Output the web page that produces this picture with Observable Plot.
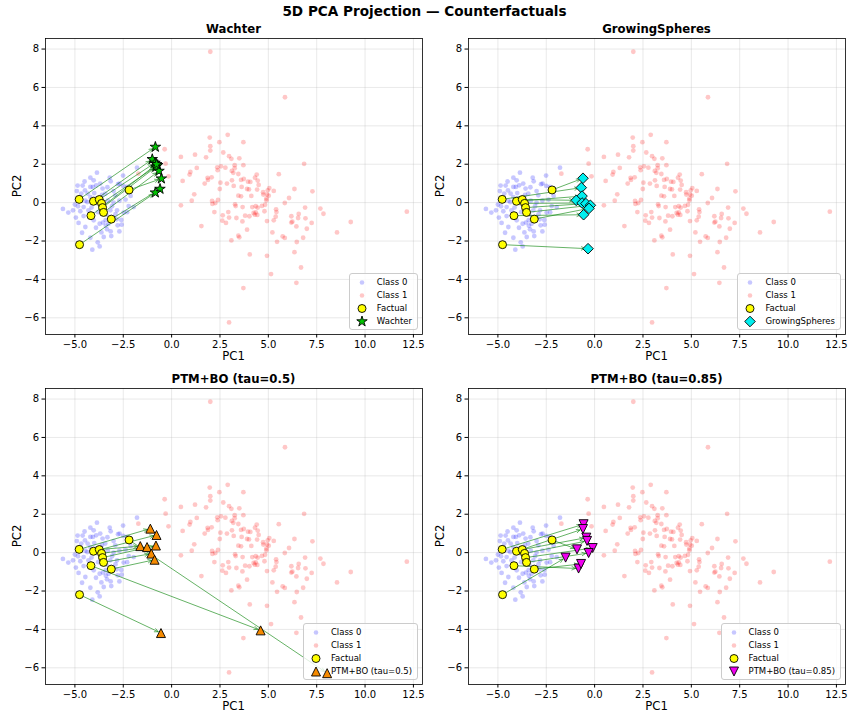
<!DOCTYPE html>
<html><head><meta charset="utf-8">
<script src="https://cdn.jsdelivr.net/npm/d3@7"></script>
<script src="https://cdn.jsdelivr.net/npm/@observablehq/plot@0.6"></script>
<style>
body{margin:0;background:#fff;}
#fig{position:relative;width:849px;height:719px;background:#fff;font-family:"DejaVu Sans",sans-serif;overflow:hidden;color:#000;}
.abs{position:absolute;}
.suptitle{left:0;width:849px;top:3px;line-height:16px;text-align:center;font-weight:bold;font-size:13.6px;}
.ptitle{line-height:16px;text-align:center;font-weight:bold;font-size:11.7px;}
.xlab{line-height:14px;text-align:center;font-size:11.7px;}
.ylab{width:60px;line-height:14px;text-align:center;font-size:11.7px;transform:rotate(-90deg);}
.legend{border:1px solid #cccccc;border-radius:3px;background:rgba(255,255,255,0.8);padding:1.5px 5px 1.5px 0;font-size:8.5px;}
.lrow{display:flex;align-items:center;height:13px;}
.lrow svg{flex:none;}
.lrow span{white-space:nowrap;line-height:13px;}
</style></head><body><div id="fig"></div>
<script>
// ---- data ----
const xTicks = [-5, -2.5, 0, 2.5, 5, 7.5, 10, 12.5];
const yTicks = [-6, -4, -2, 0, 2, 4, 6, 8];

const class0X = [-5.62,-5.34,-4.86,-4.60,-4.48,-4.20,-4.07,-3.86,-4.03,-3.69,-3.57,-3.32,-3.15,-2.77,-2.51,-2.69,-2.50,-2.38,-2.12,-2.22,-1.96,-1.79,-4.84,-4.72,-4.95,-4.81,-4.55,-4.46,-4.14,-3.96,-3.86,-4.20,-4.36,-3.72,-4.03,-3.91,-3.55,-3.41,-3.26,-3.00,-2.84,-2.79,-3.15,-3.63,-3.51,-3.34,-3.12,-2.70,-2.58,-2.48,-2.82,-3.08,-3.38,-3.17,-4.63,-4.20,-4.10,-3.82,-3.72,-4.46,-4.67,-4.34,-3.69,-3.43,-2.91,-2.31,-4.72,-5.10,-4.55,-4.0,-3.6,-3.3,-3.0,-2.7,-4.3,-3.8,-3.5,-2.9,-3.0,-3.9,-4.5,-3.4,-2.6,-4.9,-5.0,-4.2,-3.2,-2.3,-2.1];
const class0Y = [-0.33,-0.52,0.89,0.89,0.64,0.82,0.82,1.56,1.16,0.99,0.73,0.80,1.11,0.96,1.41,0.99,0.87,0.16,0.35,-0.18,-0.23,1.82,-0.19,-0.45,-0.78,-1.06,-0.70,-1.27,-0.26,0.21,-0.02,0.29,0.03,-1.10,-0.92,-1.31,-1.04,-0.91,-1.10,-0.80,-0.87,-1.18,-1.50,-1.55,-1.79,-1.39,-1.74,-1.50,-1.15,-0.52,-0.40,-0.19,-0.63,-0.40,-1.57,-1.83,-2.45,-2.07,-2.28,0.10,0.47,0.47,0.29,0.47,0.38,0.82,0.28,-0.40,-0.23,0.5,0.4,0.1,0.0,0.1,-0.4,-0.5,-0.3,-0.6,0.6,0.9,1.1,-1.2,-0.9,0.6,-0.1,1.3,1.3,-0.5,0.6];

const class1X = [2.00,5.86,1.97,2.90,2.47,3.71,2.00,2.00,2.67,0.48,1.21,1.78,2.97,3.09,3.50,6.85,3.71,3.26,3.26,2.78,2.55,2.36,2.38,1.30,0.97,0.93,0.57,1.86,1.88,1.71,2.07,3.11,3.19,3.45,4.40,5.54,4.31,2.52,2.86,3.12,3.59,3.73,3.95,4.07,4.45,4.50,2.49,3.21,3.62,3.90,4.00,4.42,4.73,5.05,4.97,5.28,6.35,7.28,1.17,1.04,0.48,2.40,2.09,2.11,2.26,3.45,3.59,4.12,4.74,4.93,4.90,5.02,4.90,6.07,5.85,6.90,7.69,7.85,3.28,3.31,3.67,4.17,4.35,4.45,4.67,4.83,5.40,5.42,2.21,2.93,2.64,2.62,2.81,2.97,3.35,3.66,3.80,4.02,4.24,4.35,4.30,4.43,4.80,4.93,5.28,5.38,6.19,6.24,6.57,6.54,6.92,6.45,6.19,7.24,6.99,9.26,8.55,12.16,1.54,3.90,3.09,3.45,3.50,5.21,5.45,5.74,5.85,6.47,6.80,6.35,4.04,4.93,6.69,5.14,3.71,6.45,2.97,-0.36,-0.31,-0.16,-1.72];
const class1Y = [7.86,5.49,3.39,3.53,3.15,3.15,2.94,2.71,2.61,2.38,2.50,2.36,2.42,2.28,2.31,2.02,1.95,1.95,1.79,1.82,1.89,1.84,1.69,1.81,1.60,1.46,1.13,1.29,1.18,0.99,1.32,1.65,1.55,1.49,1.46,1.48,1.30,1.04,0.99,1.16,1.18,1.23,1.09,1.08,1.15,0.92,0.71,0.87,0.82,0.71,0.69,0.68,0.54,0.76,0.64,0.61,0.71,0.59,0.43,0.10,-0.14,0.14,0.09,-0.07,-0.02,0.36,0.33,0.35,0.42,0.42,0.21,0.36,0.12,0.24,-0.02,-0.26,-0.31,-0.58,-0.09,-0.18,-0.23,-0.23,-0.19,-0.26,-0.17,-0.11,-0.35,-0.49,-0.49,-0.49,-0.66,-0.94,-1.06,-0.78,-0.80,-0.98,-0.68,-0.71,-0.54,-0.51,-0.63,-0.64,-0.45,-0.96,-0.92,-0.73,-0.71,-0.99,-0.59,-0.80,-0.82,-1.24,-1.04,-1.06,-1.36,-1.01,-1.55,-0.47,-1.22,-1.41,-1.97,-1.72,-1.81,-1.55,-2.04,-1.76,-1.84,-2.05,-1.83,-2.58,-2.70,-2.77,-3.38,-3.72,-4.45,-4.18,-6.24,2.78,2.03,1.37,1.51];

const factualX = [-4.78,-4.04,-3.74,-3.62,-3.57,-3.52,-4.17,-3.12,-2.20,-4.76];
const factualY = [0.17,0.07,0.16,-0.04,-0.26,-0.51,-0.68,-0.86,0.66,-2.19];

const wachterX = [-0.84,-1.00,-0.86,-0.72,-0.81,-0.65,-0.78,-0.60,-0.53,-0.84];
const wachterY = [2.90,2.26,2.07,1.95,1.86,1.65,2.00,0.71,1.25,0.52];

const gsX = [-0.69,-0.65,-0.95,-0.65,-0.45,-0.22,-0.57,-0.29,-0.60,-0.34];
const gsY = [0.78,0.34,0.12,-0.02,-0.05,-0.14,-0.63,-0.30,1.27,-2.40];

const ptm05X = [-1.10,-0.78,-1.62,-1.27,-0.81,-1.05,4.60,-0.88,8.04,-0.55];
const ptm05Y = [1.25,0.92,0.34,0.29,0.37,-0.05,-4.05,-0.37,-6.28,-4.19];

const ptm085X = [-0.57,-0.60,-0.43,-0.39,-0.10,-0.31,-0.83,-0.70,-0.91,-1.50];
const ptm085Y = [1.48,1.23,0.78,0.61,0.24,-0.02,-0.83,-0.59,0.17,-0.26];

const panelTitles = ["Wachter", "GrowingSpheres", "PTM+BO (tau=0.5)", "PTM+BO (tau=0.85)"];
const methodLabels = ["Wachter", "GrowingSpheres", "PTM+BO (tau=0.5)", "PTM+BO (tau=0.85)"];
const classLabels = ["Class 0", "Class 1"];
const factualLabel = "Factual";
const mainTitle = "5D PCA Projection \u2014 Counterfactuals";

// ---- config ----
const xDomain = [-6.52, 12.97], yDomain = [-6.87, 8.55];
const W = 424, H = 350, ML = 45, MR = 2, MT = 18, MB = 36;

function poly(pts) {
  return {draw(ctx, size) {
    const a = Math.sqrt(size / Math.PI);
    pts.forEach(([px, py], i) => i ? ctx.lineTo(px * a, py * a) : ctx.moveTo(px * a, py * a));
    ctx.closePath();
  }};
}
const starPts = d3.range(10).map(k => {
  const ang = -Math.PI / 2 + k * Math.PI / 5, rr = k % 2 ? 0.382 : 1;
  return [rr * Math.cos(ang), rr * Math.sin(ang)];
});
const shapes = {
  star: {pts: starPts, r: 5.5},
  diamond: {pts: [[0,-1],[1,0],[0,1],[-1,0]], r: 5.3},
  up: {pts: [[0,-1],[-1,1],[1,1]], r: 4.5},
  down: {pts: [[0,1],[-1,-1],[1,-1]], r: 4.5}
};
const cfSets = [
  {x: wachterX, y: wachterY, shape: "star", fill: "#00c400"},
  {x: gsX, y: gsY, shape: "diamond", fill: "#00eeee"},
  {x: ptm05X, y: ptm05Y, shape: "up", fill: "#f58a00"},
  {x: ptm085X, y: ptm085Y, shape: "down", fill: "#f000f0"}
];

const class0 = class0X.map((x, i) => ({x, y: class0Y[i]}));
const class1 = class1X.map((x, i) => ({x, y: class1Y[i]}));
const factual = factualX.map((x, i) => ({x, y: factualY[i]}));

const fig = document.getElementById("fig");
function div(cls, text, css) {
  const d = document.createElement("div");
  d.className = "abs " + cls;
  if (text != null) d.textContent = text;
  Object.assign(d.style, css);
  fig.appendChild(d);
  return d;
}
div("suptitle", mainTitle, {});

const baseStyle = {fontFamily: "DejaVu Sans", fontSize: "10px", color: "#000", background: "transparent", overflow: "visible"};

function pathFor(pts, a, cx, cy) {
  return pts.map(([px, py], i) => (i ? "L" : "M") + (cx + px * a).toFixed(2) + "," + (cy + py * a).toFixed(2)).join("") + "Z";
}

panelTitles.forEach((title, p) => {
  const col = p % 2, row = Math.floor(p / 2);
  const left = col * 423, top = 20 + row * 350;
  const cf = cfSets[p];
  const sh = shapes[cf.shape];
  const cfData = cf.x.map((x, i) => ({x, y: cf.y[i]}));
  const links = factual.map((f, i) => ({x1: f.x, y1: f.y, x2: cfData[i].x, y2: cfData[i].y}));

  const main = Plot.plot({
    width: W, height: H, marginLeft: ML, marginRight: MR, marginTop: MT, marginBottom: MB,
    style: baseStyle,
    x: {domain: xDomain, ticks: xTicks, tickFormat: d3.format(".1f"), tickSize: 3.5, tickPadding: 3, label: null},
    y: {domain: yDomain, ticks: yTicks, tickFormat: d3.format("d"), tickSize: 3.5, tickPadding: 3, label: null},
    marks: [
      Plot.ruleX(xTicks, {stroke: "#b0b0b0", strokeOpacity: 0.35, strokeWidth: 0.8}),
      Plot.ruleY(yTicks, {stroke: "#b0b0b0", strokeOpacity: 0.35, strokeWidth: 0.8}),
      Plot.dot(class0, {x: "x", y: "y", r: 2.4, fill: "blue", fillOpacity: 0.22, stroke: null}),
      Plot.dot(class1, {x: "x", y: "y", r: 2.4, fill: "red", fillOpacity: 0.22, stroke: null}),
      Plot.arrow(links, {x1: "x1", y1: "y1", x2: "x2", y2: "y2", stroke: "green", strokeOpacity: 0.6, strokeWidth: 1, headLength: 6, headAngle: 50, insetEnd: 3, bend: 0}),
      Plot.dot(factual, {x: "x", y: "y", r: 4, fill: "yellow", stroke: "black", strokeWidth: 0.9}),
      Plot.frame({stroke: "black", strokeWidth: 0.8})
    ]
  });
  Object.assign(main.style, {position: "absolute", left: left + "px", top: top + "px", zIndex: 1});
  fig.appendChild(main);

  // panel texts
  div("ptitle", title, {left: (left + ML) + "px", width: (W - ML - MR) + "px", top: (top + 1) + "px", zIndex: 4});
  div("xlab", "PC1", {left: (left + ML) + "px", width: (W - ML - MR) + "px", top: (top + 329) + "px", zIndex: 4});
  div("ylab", "PC2", {left: (left + 17 - 30) + "px", top: (top + MT + (H - MT - MB) / 2 - 7) + "px", zIndex: 4});

  // legend
  const lg = div("legend", null, {right: (849 - (left + W - MR - 4)) + "px", bottom: (719 - (top + H - MB - 4)) + "px", zIndex: 2});
  const rows = [
    {label: classLabels[0], svg: `<circle cx="12" cy="6.5" r="2.3" fill="blue" fill-opacity="0.22"/>`},
    {label: classLabels[1], svg: `<circle cx="12" cy="6.5" r="2.3" fill="red" fill-opacity="0.22"/>`},
    {label: factualLabel, svg: `<circle cx="12" cy="6.5" r="4" fill="yellow" stroke="black" stroke-width="0.9"/>`},
    {label: methodLabels[p], svg: `<path d="${pathFor(sh.pts, sh.r, 12, 6.5)}" fill="${cf.fill}" stroke="black" stroke-width="0.9"/>`}
  ];
  rows.forEach(r => {
    const rd = document.createElement("div");
    rd.className = "lrow";
    rd.innerHTML = `<svg width="27" height="13" style="overflow:visible">${r.svg}</svg><span>${r.label}</span>`;
    lg.appendChild(rd);
  });

  // counterfactual markers on top of everything
  const over = Plot.plot({
    width: W, height: H, marginLeft: ML, marginRight: MR, marginTop: MT, marginBottom: MB,
    style: baseStyle,
    x: {domain: xDomain, axis: null},
    y: {domain: yDomain, axis: null},
    marks: [
      Plot.dot(cfData, {x: "x", y: "y", r: sh.r, symbol: poly(sh.pts), fill: cf.fill, stroke: "black", strokeWidth: 0.9})
    ]
  });
  Object.assign(over.style, {position: "absolute", left: left + "px", top: top + "px", zIndex: 3, pointerEvents: "none"});
  fig.appendChild(over);
});
</script></body></html>
